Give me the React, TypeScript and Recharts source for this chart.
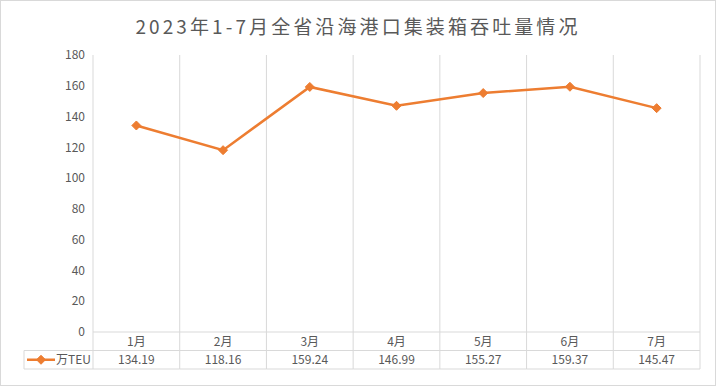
import React from "react";
import { CartesianGrid, Line, LineChart, XAxis, YAxis } from "recharts";

const months = ["1月", "2月", "3月", "4月", "5月", "6月", "7月"];
const teu = [134.19, 118.16, 159.24, 146.99, 155.27, 159.37, 145.47];
const yTicks = [0, 20, 40, 60, 80, 100, 120, 140, 160, 180];
const xBounds = [0, 1, 2, 3, 4, 5, 6, 7];

const SERIES = "万TEU";
const ORANGE = "#ED7D31";
const GRID = "#d9d9d9";
const TEXT = "#595959";
const FONT = "'Noto Sans CJK SC', 'Noto Sans', sans-serif";

const W = 716;
const H = 386;
const PLOT_LEFT = 93;
const PLOT_RIGHT = 700;
const BAND = (PLOT_RIGHT - PLOT_LEFT) / months.length;
const ROW = 18.5;
const LEGEND_W = 69;

const data = months.map((m, i) => ({ x: i + 0.5, name: m, value: teu[i] }));

function Diamond(props: any) {
  const { cx, cy } = props;
  if (cx == null || cy == null) return null;
  const r = 4.5;
  return (
    <polygon
      points={`${cx},${cy - r} ${cx + r},${cy} ${cx},${cy + r} ${cx - r},${cy}`}
      fill={ORANGE}
      stroke={ORANGE}
    />
  );
}

// each tick draws one column of the data table under the plot
function TableTick(props: any) {
  const { x, y, payload } = props;
  const i = payload.value as number;
  const bottom = y + ROW * 2;
  return (
    <g>
      <line x1={x} y1={y} x2={x} y2={bottom} stroke={GRID} />
      {i < months.length ? (
        <g>
          <line x1={x} y1={y + ROW} x2={x + BAND} y2={y + ROW} stroke={GRID} />
          <line x1={x} y1={bottom} x2={x + BAND} y2={bottom} stroke={GRID} />
          <text x={x + BAND / 2} y={y + 13.5} textAnchor="middle" fill={TEXT} fontSize={12} fontFamily={FONT}>
            {months[i]}
          </text>
          <text x={x + BAND / 2} y={y + ROW + 13.5} textAnchor="middle" fill={TEXT} fontSize={12} fontFamily={FONT}>
            {teu[i].toFixed(2)}
          </text>
        </g>
      ) : null}
      {i === 0 ? (
        <g>
          <line x1={x - LEGEND_W} y1={y + ROW} x2={x} y2={y + ROW} stroke={GRID} />
          <line x1={x - LEGEND_W} y1={bottom} x2={x} y2={bottom} stroke={GRID} />
          <line x1={x - LEGEND_W} y1={y + ROW} x2={x - LEGEND_W} y2={bottom} stroke={GRID} />
          <line x1={x - LEGEND_W + 3} y1={y + ROW * 1.5} x2={x - LEGEND_W + 31} y2={y + ROW * 1.5} stroke={ORANGE} strokeWidth={2.5} />
          <Diamond cx={x - LEGEND_W + 17} cy={y + ROW * 1.5} />
          <text x={x - 2} y={y + ROW + 13.5} textAnchor="end" fill={TEXT} fontSize={12} fontFamily={FONT}>
            {SERIES}
          </text>
        </g>
      ) : null}
    </g>
  );
}

export default function App() {
  return (
    <div
      style={{
        position: "fixed",
        left: 0,
        top: 0,
        width: W - 2,
        height: H - 2,
        border: `1px solid ${GRID}`,
        background: "#fff",
      }}
    >
      <div
        style={{
          position: "absolute",
          left: 0,
          right: 0,
          top: 11,
          textAlign: "center",
          fontFamily: FONT,
          fontSize: 19,
          letterSpacing: 3.1,
          color: TEXT,
        }}
      >
        2023年1-7月全省沿海港口集装箱吞吐量情况
      </div>
      <div style={{ position: "absolute", left: -1, top: -1 }}>
        <LineChart width={W} height={H} data={data} margin={{ top: 55, right: W - PLOT_RIGHT, bottom: 17, left: 33 }}>
          <CartesianGrid horizontal={false} stroke={GRID} />
          <XAxis
            dataKey="x"
            type="number"
            domain={[0, 7]}
            ticks={xBounds}
            interval={0}
            height={37}
            tickSize={0}
            tickMargin={0}
            tickLine={false}
            axisLine={{ stroke: GRID }}
            tick={<TableTick />}
          />
          <YAxis
            domain={[0, 180]}
            ticks={yTicks}
            width={60}
            axisLine={false}
            tickLine={false}
            tick={{ fill: TEXT, fontSize: 12, fontFamily: FONT }}
          />
          <Line
            type="linear"
            dataKey="value"
            name={SERIES}
            stroke={ORANGE}
            strokeWidth={2.5}
            dot={<Diamond />}
            activeDot={false}
            isAnimationActive={false}
          />
        </LineChart>
      </div>
    </div>
  );
}
